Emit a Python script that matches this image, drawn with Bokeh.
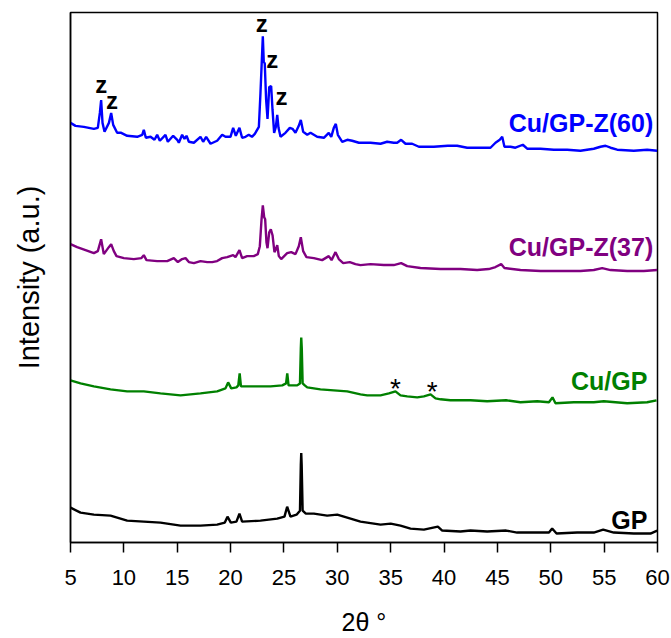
from bokeh.plotting import figure
from bokeh.models import Range1d, FixedTicker, ColumnDataSource
from bokeh.core.properties import value
from bokeh.embed import file_html
from bokeh.resources import INLINE

# XRD patterns, stacked with vertical offsets (arbitrary units)
tt_z60 = [5.0, 5.47, 6.25, 7.19, 7.56, 7.75, 7.87, 8.0, 8.19, 8.6, 8.81, 9.0, 9.37, 9.75,
          10.31, 11.25, 11.72, 11.87, 12.06, 12.5, 12.87, 13.12, 13.37, 13.9, 14.12, 14.62,
          15.0, 15.15, 15.46, 15.68, 15.87, 16.09, 16.56, 17.18, 17.43, 17.71, 18.12, 18.74,
          19.21, 19.52, 19.99, 20.24, 20.49, 20.83, 21.08, 21.4, 21.7, 22.0, 22.27, 22.65,
          22.8, 23.02, 23.11, 23.2, 23.33, 23.46, 23.62, 23.8, 23.93, 24.08, 24.24, 24.37,
          24.49, 24.68, 25.14, 25.55, 25.8, 26.08, 26.39, 26.58, 26.8, 27.18, 27.49, 28.11,
          28.74, 29.2, 29.43, 29.67, 29.86, 30.05, 30.46, 30.93, 31.39, 32.02, 33.11, 34.05,
          34.67, 35.29, 35.61, 35.98, 36.39, 37.01, 37.64, 39.04, 40.35, 41.23, 42.17, 43.41,
          44.35, 44.82, 45.22, 45.45, 45.66, 46.23, 46.69, 47.38, 47.79, 49.04, 50.29, 51.54,
          52.78, 54.03, 54.66, 55.13, 55.6, 56.22, 57.78, 59.03, 59.97]
int_z60 = [422, 419, 418, 416, 417, 432, 445, 422, 413, 422, 432, 420, 412, 412,
           409, 408, 410, 415, 407, 408, 405, 410, 404, 410, 403, 409,
           405, 402, 410, 406, 409, 403, 402, 408, 403, 408, 401, 404,
           410, 408, 408, 417, 409, 417, 407, 408, 410, 408, 411, 418,
           452, 509, 483, 482, 445, 426, 458, 459, 435, 412, 418, 430,
           417, 408, 412, 417, 416, 412, 419, 425, 413, 410, 412, 408,
           407, 412, 408, 417, 421, 410, 403, 405, 404, 402, 402, 401,
           403, 402, 402, 405, 401, 401, 398, 398, 399, 399, 397, 397,
           397, 402, 405, 408, 398, 398, 397, 400, 396, 396, 395, 395,
           394, 396, 398, 399, 397, 395, 394, 395, 394]

tt_z37 = [5.0, 5.62, 6.41, 7.19, 7.56, 7.87, 8.12, 8.59, 8.81, 9.06, 9.31, 10.0, 10.93,
          11.65, 11.87, 12.12, 13.12, 14.06, 14.68, 15.06, 15.46, 15.78, 16.09, 16.56, 17.18,
          17.81, 18.28, 18.74, 19.21, 19.68, 20.24, 20.46, 20.83, 21.08, 21.55, 22.17, 22.55,
          22.74, 22.9, 23.02, 23.15, 23.24, 23.36, 23.46, 23.62, 23.77, 23.93, 24.11, 24.24,
          24.37, 24.52, 24.74, 25.3, 25.68, 26.08, 26.39, 26.58, 26.8, 27.11, 27.8, 28.58,
          29.2, 29.46, 29.83, 30.14, 30.55, 31.17, 31.7, 32.17, 33.11, 34.36, 35.29, 35.98,
          36.55, 37.79, 39.67, 41.54, 43.1, 44.19, 44.82, 45.35, 45.66, 47.16, 49.04, 50.91,
          52.78, 54.03, 54.82, 55.6, 57.16, 58.72, 59.97]
int_z37 = [300, 297, 294, 291, 293, 305, 290, 297, 300, 293, 288, 286, 285,
           286, 289, 284, 283, 283, 286, 282, 285, 286, 282, 281, 283,
           282, 282, 283, 286, 287, 289, 287, 294, 286, 288, 288, 290,
           298, 325, 339, 327, 325, 302, 296, 312, 315, 309, 292, 295,
           299, 288, 285, 291, 292, 290, 298, 307, 293, 287, 286, 284,
           288, 284, 292, 285, 281, 282, 280, 279, 280, 279, 279, 281,
           278, 276, 275, 275, 274, 275, 277, 280, 276, 274, 273, 273,
           273, 274, 276, 274, 273, 273, 274]

tt_cugp = [5.0, 5.94, 7.19, 8.75, 10.31, 11.87, 13.43, 15.31, 17.18, 18.74, 19.52, 19.77,
           20.06, 20.55, 20.72, 20.85, 20.97, 22.17, 23.74, 24.84, 25.2, 25.31, 25.43, 26.24,
           26.5, 26.58, 26.62, 26.67, 26.75, 26.95, 27.18, 28.42, 29.67, 30.93, 32.17, 32.8,
           34.05, 34.83, 35.45, 35.92, 36.55, 37.49, 38.11, 38.74, 39.2, 39.67, 40.6, 42.48,
           44.04, 45.82, 47.16, 48.73, 49.83, 50.16, 50.44, 52.16, 54.03, 54.97, 57.16, 59.03,
           59.91]
int_cugp = [163, 160, 157, 154, 152, 152, 150, 148, 150, 152, 155, 161,
            155, 156, 158, 170, 157, 157, 157, 158, 160, 170, 158, 158,
            160, 195, 206, 195, 160, 158, 156, 154, 153, 152, 149, 148,
            148, 150, 152, 148, 147, 146, 147, 149, 145, 144, 143, 143,
            142, 143, 141, 142, 141, 146, 140, 141, 141, 142, 140, 141,
            143]

tt_gp = [5.0, 5.94, 7.19, 8.75, 10.31, 11.87, 13.43, 15.31, 17.18, 18.74, 19.46, 19.71,
         20.02, 20.55, 20.83, 21.08, 22.8, 24.37, 25.05, 25.3, 25.61, 26.18, 26.5, 26.58,
         26.62, 26.66, 26.75, 27.05, 27.8, 29.05, 29.99, 30.93, 32.17, 32.8, 34.05, 35.0,
         35.92, 36.86, 38.11, 39.42, 39.83, 41.54, 42.48, 44.04, 45.82, 46.85, 48.42, 49.83,
         50.13, 50.54, 52.47, 54.03, 54.91, 55.91, 57.78, 59.34, 59.97]
int_gp = [35, 30, 28, 27, 22, 21, 20, 17, 17, 18, 20, 26,
          20, 21, 29, 21, 22, 24, 26, 36, 26, 28, 32, 78,
          90, 78, 32, 29, 29, 27, 28, 25, 21, 20, 18, 19,
          17, 14, 13, 16, 12, 11, 12, 11, 12, 10, 10, 10,
          14, 9, 10, 10, 13, 10, 9, 9, 12]

x_ticks = [5, 10, 15, 20, 25, 30, 35, 40, 45, 50, 55, 60]

# zeolite reflections (z) and copper oxide reflections (*)
z_tt = [7.89, 8.9, 22.91, 23.9, 24.76]
z_int = [461, 444, 522, 486, 449]
star_tt = [35.45, 38.89]
star_int = [155, 152]

series_names = ["Cu/GP-Z(60)", "Cu/GP-Z(37)", "Cu/GP", "GP"]
series_colors = ["#0000FF", "#800080", "#008000", "#000000"]

FONT = "Liberation Sans"

p = figure(width=671, height=638, output_backend="svg", toolbar_location=None,
           x_range=Range1d(5, 60), y_range=Range1d(0, 533),
           min_border_left=70, min_border_right=14, min_border_top=12,
           min_border_bottom=93)
p.grid.visible = False
p.background_fill_color = "white"
p.border_fill_color = "white"
p.outline_line_color = "black"
p.outline_line_width = 1.5

traces = [(tt_z60, int_z60), (tt_z37, int_z37), (tt_cugp, int_cugp), (tt_gp, int_gp)]
for (xs, ys), col in zip(traces, series_colors):
    p.line(xs, ys, line_color=col, line_width=2.4)

# series labels at the right end of each pattern
lab_src = ColumnDataSource(dict(
    x=[59.6, 59.6, 59.05, 59.05],
    y=[422, 297, 162, 23],
    text=series_names,
    color=series_colors,
))
p.text(x="x", y="y", text="text", text_color="color", source=lab_src,
       text_font=value(FONT), text_font_style="bold", text_font_size="25px",
       text_align="right", text_baseline="alphabetic")

p.text(x=z_tt, y=z_int, text=["z"] * len(z_tt), text_color="black",
       text_font=value(FONT), text_font_style="bold", text_font_size="24px",
       text_align="center", text_baseline="alphabetic")
p.text(x=star_tt, y=star_int, text=["*"] * len(star_tt), text_color="black",
       text_font=value(FONT), text_font_size="28px",
       text_align="center", text_baseline="middle")

xa = p.xaxis[0]
xa.ticker = FixedTicker(ticks=x_ticks)
xa.major_tick_out = 10
xa.major_tick_in = 0
xa.minor_tick_line_color = None
xa.axis_line_width = 1.5
xa.major_tick_line_width = 1.5
xa.major_label_text_font = FONT
xa.major_label_text_font_size = "22px"
xa.major_label_text_color = "black"
xa.major_label_standoff = 17
xa.axis_label = "2θ °"
xa.axis_label_text_font = FONT
xa.axis_label_text_font_size = "25px"
xa.axis_label_text_font_style = "normal"
xa.axis_label_text_color = "black"
xa.axis_label_standoff = 20

ya = p.yaxis[0]
ya.ticker = FixedTicker(ticks=[])
ya.major_tick_line_color = None
ya.minor_tick_line_color = None
ya.axis_line_width = 1.5
ya.axis_label = "Intensity (a.u.)"
ya.axis_label_text_font = FONT
ya.axis_label_text_font_size = "29px"
ya.axis_label_text_font_style = "normal"
ya.axis_label_text_color = "black"
ya.axis_label_standoff = 26

open("out.html", "w").write(file_html(p, INLINE))
